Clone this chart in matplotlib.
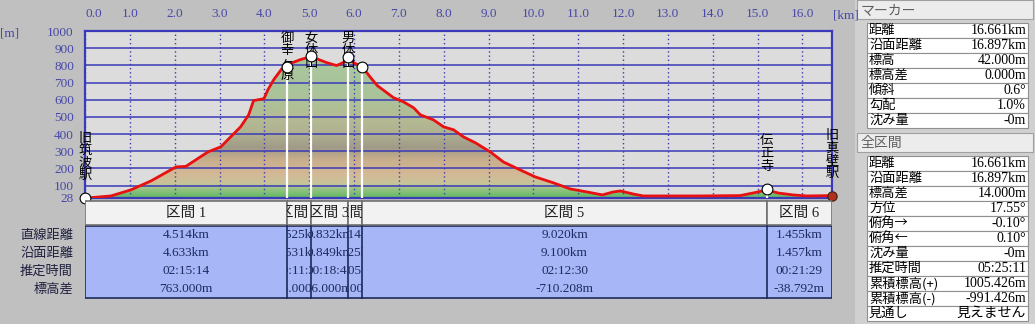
import matplotlib
matplotlib.use('Agg')
import matplotlib.pyplot as plt
import numpy as np
from matplotlib.patches import Rectangle, Polygon
from matplotlib.colors import LinearSegmentedColormap
from matplotlib.transforms import Bbox, TransformedBbox

# profile (distance km, elevation m)
dist_km = [0.00, 0.13, 0.58, 1.02, 1.47, 2.03, 2.25, 2.74, 3.03, 3.25, 3.47, 3.65,
           3.76, 3.99, 4.08, 4.21, 4.41, 4.514, 4.59, 4.81, 5.039, 5.21, 5.39, 5.61,
           5.76, 5.871, 5.99, 6.185, 6.37, 6.52, 6.88, 7.10, 7.33, 7.48, 7.77, 8.00,
           8.22, 8.44, 8.71, 9.04, 9.33, 9.71, 10.04, 10.45, 10.82, 11.20, 11.54,
           11.78, 11.94, 12.23, 12.45, 13.72, 14.61, 14.90, 15.205, 15.46, 15.79,
           16.10, 16.661]
elev_m = [28, 30, 40, 75, 127, 209, 212, 296, 326, 384, 442, 512,
          595, 606, 658, 717, 787, 791, 812, 834, 851, 834, 816, 799,
          816, 851, 816, 791, 729, 682, 612, 588, 553, 512, 483, 442,
          425, 384, 349, 296, 238, 191, 151, 116, 81, 63, 46,
          63, 69, 51, 40, 40, 42, 57, 75, 57, 46,
          40, 42]

marker_names = ['旧筑波駅', '御幸ヶ原', '女体山', '男体山', '', '伝正寺', '旧真壁駅']
marker_km = [0.0, 4.514, 5.039, 5.871, 6.185, 15.205, 16.661]
marker_elev = [28, 791, 855, 849, 791, 81, 42]

sec_names = ['区間 1', '区間 2', '区間 3', '区間 4', '区間 5', '区間 6']
sec_straight = ['4.514km', '0.525km', '0.832km', '0.314km', '9.020km', '1.455km']
sec_surface = ['4.633km', '0.531km', '0.849km', '0.325km', '9.100km', '1.457km']
sec_time = ['02:15:14', '00:11:31', '00:18:43', '00:05:44', '02:12:30', '00:21:29']
sec_dz = ['763.000m', '64.000m', '-6.000m', '-58.000m', '-710.208m', '-38.792m']
row_labels = ['直線距離', '沿面距離', '推定時間', '標高差']

marker_info = [('距離', '16.661km'), ('沿面距離', '16.897km'), ('標高', '42.000m'),
               ('標高差', '0.000m'), ('傾斜', '0.6°'), ('勾配', '1.0%'), ('沈み量', '-0m')]
total_info = [('距離', '16.661km'), ('沿面距離', '16.897km'), ('標高差', '14.000m'),
              ('方位', '17.55°'), ('俯角→', '-0.10°'), ('俯角←', '0.10°'),
              ('沈み量', '-0m'), ('推定時間', '05:25:11'), ('累積標高(+)', '1005.426m'),
              ('累積標高(-)', '-991.426m'), ('見通し', '見えません')]

y_ticks = [28, 100, 200, 300, 400, 500, 600, 700, 800, 900, 1000]
x_ticks = list(range(0, 17))

JP = ['Noto Sans CJK JP', 'DejaVu Sans']
NUM = ['Liberation Serif', 'Noto Sans CJK JP']
BLUE = '#3a3ab8'
TXT = '#1e2a60'

W, H = 1035, 324
fig = plt.figure(figsize=(W / 100, H / 100), dpi=100, facecolor='#c0c0c0')


def box(l, t, r, b):
    return [l / W, 1 - b / H, (r - l) / W, (b - t) / H]


total = marker_km[-1]
ax = fig.add_axes(box(85, 31, 832, 198))
ax.set_facecolor('#dcdcdc')
ax.set_xlim(0, total)
ax.set_ylim(28, 1000)

# gradient fill clipped to the profile
stops = [(28, '#62b862'), (70, '#8cc27e'), (110, '#c8c49a'), (170, '#d4b896'),
         (250, '#c8ae8c'), (320, '#a09a88'), (400, '#b0b090'), (500, '#b4bc94'),
         (650, '#aac49a'), (1000, '#a8c8a0')]
cmap = LinearSegmentedColormap.from_list(
    'terrain_fill', [((e - 28) / 972, c) for e, c in stops])
grad = np.linspace(0, 1, 400).reshape(-1, 1)
im = ax.imshow(grad, extent=[0, total, 28, 1000], origin='lower', aspect='auto',
               cmap=cmap, zorder=1)
verts = [(0, 28)] + list(zip(dist_km, elev_m)) + [(total, 28)]
clip = Polygon(verts, closed=True, transform=ax.transData,
               facecolor='none', edgecolor='none')
ax.add_patch(clip)
im.set_clip_path(clip)

ax.set_yticks(y_ticks)
ax.set_yticklabels([str(v) for v in y_ticks])
ax.set_xticks(x_ticks)
ax.set_xticklabels(['%.1f' % v for v in x_ticks])
ax.xaxis.tick_top()
ax.tick_params(length=0, labelcolor='#4848a8', labelsize=9.5)
ax.tick_params(axis='x', pad=8)
ax.tick_params(axis='y', pad=8)
for lab in ax.get_xticklabels() + ax.get_yticklabels():
    lab.set_family(NUM)
ax.get_xticklabels()[0].set_horizontalalignment('left')
ax.grid(axis='y', color=BLUE, lw=1.1, ls='-')
ax.grid(axis='x', color=BLUE, lw=1.0, ls=(0, (1, 2)))
ax.set_axisbelow(False)
for s in ax.spines.values():
    s.set_color(BLUE)
    s.set_linewidth(1.6)

ax.plot(dist_km, elev_m, color='#e81010', lw=2.0, zorder=4)
ax.vlines(marker_km[1:-1], 28, marker_elev[1:-1], color='white', lw=1.6, zorder=3)
ax.scatter(marker_km[:-1], marker_elev[:-1], s=60, facecolor='white',
           edgecolor='black', lw=0.8, zorder=6, clip_on=False)
ax.scatter([marker_km[-1]], [marker_elev[-1]], s=45, marker='o', facecolor='#b03020',
           edgecolor='#402010', lw=0.8, zorder=6, clip_on=False)

for name, d, e in zip(marker_names, marker_km, marker_elev):
    if not name:
        continue
    txt = '\n'.join(name)
    if e > 500:
        ax.text(d, 0.995, txt, transform=ax.get_xaxis_transform(), ha='center',
                va='top', fontsize=9.5, family=JP, linespacing=0.95, zorder=5)
    else:
        ax.annotate(txt, (d, e), xytext=(0, 11.5), textcoords='offset points',
                    ha='center', va='bottom', fontsize=9.5, family=JP,
                    linespacing=0.95, zorder=5, annotation_clip=False)

# section table under the chart
axt = fig.add_axes(box(85, 200, 832, 299))
axt.set_xlim(0, total)
axt.set_ylim(99, 0)
axt.axis('off')
axt.add_patch(Rectangle((0, 26), total, 72, facecolor='#a6b6f6',
                        edgecolor='#1c2a5a', lw=1.2))
rows = [sec_straight, sec_surface, sec_time, sec_dz]
for i in range(len(sec_names)):
    l, r = marker_km[i], marker_km[i + 1]
    c = (l + r) / 2
    axt.add_patch(Rectangle((l, 1), r - l, 24, facecolor='#f2f2f2',
                            edgecolor='#707070', lw=1.2))
    if i > 0:
        axt.plot([l, l], [26, 98], color='#1c2a5a', lw=1.2)
    cell_box = TransformedBbox(Bbox([[l, 0], [r, 99]]), axt.transData)
    t = axt.text(c, 13, sec_names[i], ha='center', va='center', fontsize=10.5,
                 family=NUM, color='#202020')
    t.set_clip_on(True)
    t.set_clip_box(cell_box)
    t.set_clip_path(None)
    for j, vals in enumerate(rows):
        t = axt.text(c, 35 + 18 * j, vals[i], ha='center', va='center',
                     fontsize=9.5, family=NUM, color=TXT)
        t.set_clip_on(True)
        t.set_clip_box(cell_box)
        t.set_clip_path(None)

# overlay in pixel coordinates for labels and side panels
ov = fig.add_axes([0, 0, 1, 1])
ov.set_xlim(0, W)
ov.set_ylim(H, 0)
ov.axis('off')
ov.text(846, 16, '[km]', ha='center', va='center', fontsize=9.5, family=NUM,
        color='#4848a8')
ov.text(10, 33, '[m]', ha='center', va='center', fontsize=9.5, family=NUM,
        color='#4848a8')
for j, lab in enumerate(row_labels):
    ov.text(73, 235 + 18 * j, lab, ha='right', va='center', fontsize=9.5,
            family=JP, color='#202040')

ov.add_patch(Rectangle((855, 0), 180, 324, facecolor='#d0d0d0', edgecolor='none'))


def panel(title, top, items):
    ov.add_patch(Rectangle((857, top), 176, 19, facecolor='#ececec',
                           edgecolor='#a0a0a0', lw=0.8))
    ov.text(861, top + 10, title, ha='left', va='center', fontsize=10,
            family=JP, color='#606060')
    y0 = top + 23
    for k, (name, val) in enumerate(items):
        y = y0 + 15 * k
        ov.add_patch(Rectangle((867, y), 161, 15, facecolor='white',
                               edgecolor='#909090', lw=0.8))
        ov.text(869, y + 7.5, name, ha='left', va='center', fontsize=9.5,
                family=JP, color='black')
        ov.text(1026, y + 7.5, val, ha='right', va='center', fontsize=10,
                family=NUM, color='black')


panel('マーカー', 0, marker_info)
panel('全区間', 133, total_info)

fig.savefig('out.png', dpi=100, facecolor=fig.get_facecolor())
